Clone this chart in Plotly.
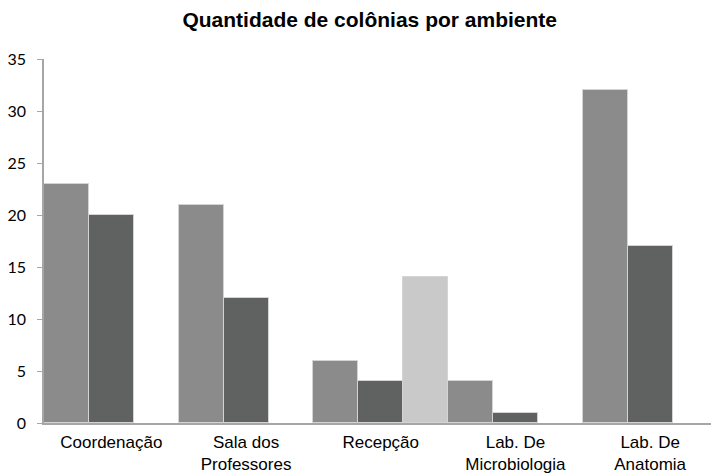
import plotly.graph_objects as go

categories = ["Coordenação", "Sala dos<br>Professores", "Recepção", "Lab. De<br>Microbiologia", "Lab. De<br>Anatomia"]
serie1 = [23, 21, 6, 4, 32]
serie2 = [20, 12, 4, 1, 17]
serie3 = [None, None, 14, None, None]
colors = ["#8b8b8b", "#606261", "#c9c9c9"]

xpos = list(range(len(categories)))

fig = go.Figure()
for vals, c, name in zip([serie1, serie2, serie3], colors, ["Série 1", "Série 2", "Série 3"]):
    fig.add_trace(go.Bar(x=xpos, y=vals, name=name, marker=dict(color=c, line=dict(color="#d4d4d4", width=1))))

fig.update_layout(
    width=711, height=475,
    margin=dict(l=44, r=0, t=59, b=52),
    plot_bgcolor="white", paper_bgcolor="white",
    barmode="group", bargap=0, bargroupgap=0,
    showlegend=False,
    title=dict(text="<b>Quantidade de colônias por ambiente</b>", x=0.52, xanchor="center", y=0.958, yanchor="middle",
               font=dict(family="Liberation Sans, Arial", size=21, color="#000000")),
)
fig.update_xaxes(
    range=[-0.5, -0.5 + 667 / 134.7], tickvals=xpos, ticktext=categories,
    showline=True, linecolor="#a6a6a6", linewidth=1.5, ticks="", showgrid=False, zeroline=False,
    ticklabelstandoff=3,
    tickfont=dict(family="Liberation Sans, Arial", size=17, color="#000000"),
)
fig.update_yaxes(
    range=[0, 35], dtick=5, showline=True, linecolor="#a6a6a6", linewidth=1.5,
    ticks="outside", ticklen=5, tickcolor="#a6a6a6", ticklabelstandoff=8,
    showgrid=False, zeroline=False,
    tickfont=dict(family="Lato, Open Sans", size=16, color="#000000"),
)
fig.write_html("out.html")
